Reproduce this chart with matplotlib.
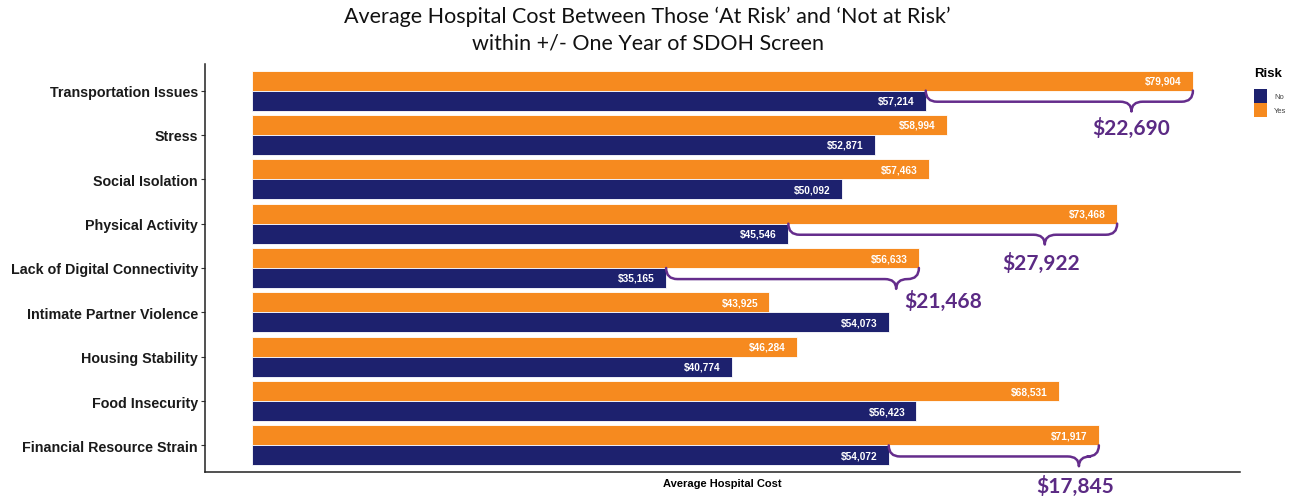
import matplotlib
matplotlib.use("Agg")
import matplotlib.pyplot as plt
from matplotlib.path import Path
from matplotlib.patches import PathPatch, Patch
import numpy as np

# --- data -----------------------------------------------------------------
categories = [
    "Transportation Issues",
    "Stress",
    "Social Isolation",
    "Physical Activity",
    "Lack of Digital Connectivity",
    "Intimate Partner Violence",
    "Housing Stability",
    "Food Insecurity",
    "Financial Resource Strain",
]
cost_no = [57214, 52871, 50092, 45546, 35165, 54073, 40774, 56423, 54072]
cost_yes = [79904, 58994, 57463, 73468, 56633, 43925, 46284, 68531, 71917]

# categories whose at-risk gap is called out with a brace
gap_categories = [
    "Transportation Issues",
    "Physical Activity",
    "Lack of Digital Connectivity",
    "Financial Resource Strain",
]

# --- styling ----------------------------------------------------------------
ORANGE = "#F68A1F"
NAVY = "#1D216E"
PURPLE = "#652D8C"
GAP_LABEL = "#5B2A84"
TITLE_FONT = ["Lato", "DejaVu Sans"]
AXIS_FONT = ["Liberation Sans", "DejaVu Sans"]

# where the brace tip sits along the gap, and where its label goes
brace_layout = {
    "Transportation Issues": dict(tip=0.77, dy=0.82, ha="center", dx=0),
    "Physical Activity": dict(tip=0.78, dy=0.87, ha="center", dx=-300),
    "Lack of Digital Connectivity": dict(tip=0.91, dy=0.74, ha="left", dx=700),
    "Financial Resource Strain": dict(tip=0.905, dy=0.90, ha="center", dx=-300),
}

fig = plt.figure(figsize=(12.95, 5.02), dpi=100)
ax = fig.add_axes([0.1583, 0.0578, 0.7992, 0.8127])

y = np.arange(len(categories))
bar_h = 0.45
xmax = max(max(cost_no), max(cost_yes))

ax.barh(y - bar_h / 2, cost_yes, height=bar_h, color=ORANGE,
        edgecolor="white", linewidth=0.6, zorder=2)
ax.barh(y + bar_h / 2, cost_no, height=bar_h, color=NAVY,
        edgecolor="white", linewidth=0.6, zorder=2)

pad = 0.012 * xmax
for yi, vy, vn in zip(y, cost_yes, cost_no):
    ax.text(vy - pad, yi - bar_h / 2, f"${vy:,}", color="white",
            fontsize=7.3, fontweight="bold", family=AXIS_FONT,
            ha="right", va="center", zorder=3)
    ax.text(vn - pad, yi + bar_h / 2, f"${vn:,}", color="white",
            fontsize=7.3, fontweight="bold", family=AXIS_FONT,
            ha="right", va="center", zorder=3)


def draw_brace(ax, x0, x1, yc, tip_frac, color):
    """Curly brace hanging below row yc, spanning x0..x1 (data units)."""
    xt = x0 + tip_frac * (x1 - x0)
    yh = yc + 0.25          # horizontal run
    ytip = yc + 0.47        # point of the brace
    r = 0.012 * xmax        # corner radius along x
    verts = [
        (x0, yc), (x0, yh), (x0 + r, yh),
        (xt - r, yh),
        (xt, yh), (xt, ytip),
        (xt, yh), (xt + r, yh),
        (x1 - r, yh),
        (x1, yh), (x1, yc),
    ]
    codes = [
        Path.MOVETO, Path.CURVE3, Path.CURVE3,
        Path.LINETO,
        Path.CURVE3, Path.CURVE3,
        Path.CURVE3, Path.CURVE3,
        Path.LINETO,
        Path.CURVE3, Path.CURVE3,
    ]
    ax.add_patch(PathPatch(Path(verts, codes), fill=False, edgecolor=color,
                           linewidth=1.8, capstyle="round", joinstyle="round",
                           clip_on=False, zorder=4))
    return xt


for cat in gap_categories:
    i = categories.index(cat)
    lo, hi = sorted((cost_no[i], cost_yes[i]))
    spec = brace_layout[cat]
    xt = draw_brace(ax, lo, hi, i, spec["tip"], PURPLE)
    ax.text(xt + spec["dx"], i + spec["dy"], f"${hi - lo:,}", color=GAP_LABEL,
            fontsize=15, fontweight="bold", family=TITLE_FONT,
            ha=spec["ha"], va="center", clip_on=False, zorder=5)

# --- axes -------------------------------------------------------------------
ax.set_xlim(-0.05 * xmax, 1.05 * xmax)
ax.set_ylim(len(categories) - 1 + 0.6, -0.6)
ax.set_yticks(y)
ax.set_yticklabels(categories, fontsize=10.3, fontweight="bold",
                   family=AXIS_FONT, color="#1a1a1a")
ax.set_xticks([])
ax.tick_params(axis="y", length=3, width=0.8, color="#333333", pad=2)
for side in ("top", "right"):
    ax.spines[side].set_visible(False)
for side in ("left", "bottom"):
    ax.spines[side].set_color("#222222")
    ax.spines[side].set_linewidth(1.1)
ax.set_xlabel("Average Hospital Cost", fontsize=8, fontweight="bold",
              family=AXIS_FONT, labelpad=4)

fig.text(0.5, 1 - 17 / 502,
         "Average Hospital Cost Between Those \u2018At Risk\u2019 and "
         "\u2018Not at Risk\u2019", ha="center", va="center",
         fontsize=15.5, family=TITLE_FONT, color="#111111")
fig.text(0.5, 1 - 43 / 502, "within +/- One Year of SDOH Screen",
         ha="center", va="center", fontsize=15.5, family=TITLE_FONT,
         color="#111111")

handles = [Patch(facecolor=NAVY, label="No"), Patch(facecolor=ORANGE, label="Yes")]
leg = fig.legend(handles=handles, title="Risk", loc="upper left",
                 bbox_to_anchor=(1254 / 1295, 1 - 68 / 502), frameon=False,
                 prop={"family": AXIS_FONT, "size": 5.5},
                 handlelength=1.75, handleheight=2.4, handletextpad=0.9,
                 labelspacing=0.05, borderaxespad=0, borderpad=0)
leg.get_title().set_fontweight("bold")
leg.get_title().set_fontsize(9.5)
leg.get_title().set_family(AXIS_FONT)
leg._legend_box.align = "left"
leg._legend_box.sep = 7
for t in leg.get_texts():
    t.set_color("#444444")

fig.savefig("out.png", dpi=100)
